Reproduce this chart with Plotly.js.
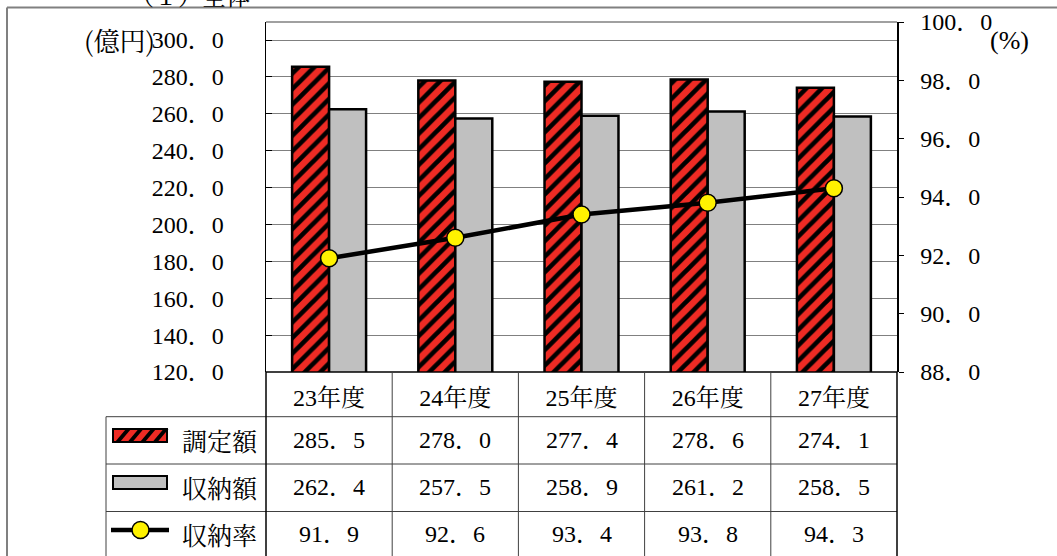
<!DOCTYPE html>
<html>
<head>
<meta charset="utf-8">
<script src="https://cdn.plot.ly/plotly-3.0.1.min.js"></script>
<style>html,body{margin:0;padding:0;background:#fff;}#chart{width:1057px;height:556px;}</style>
</head>
<body>
<div id="chart"></div>
<script>
// ---- data ----
const years = ["23年度", "24年度", "25年度", "26年度", "27年度"];
const choteigaku = [285.5, 278.0, 277.4, 278.6, 274.1];   // 調定額 (億円)
const shunogaku = [262.4, 257.5, 258.9, 261.2, 258.5];    // 収納額 (億円)
const shunoritsu = [91.9, 92.6, 93.4, 93.8, 94.3];        // 収納率 (%)
const seriesNames = ["調定額", "収納額", "収納率"];
const leftTicks = [120, 140, 160, 180, 200, 220, 240, 260, 280, 300];
const rightTicks = [88, 90, 92, 94, 96, 98, 100];
const chartTitle = "（１）全体";

// ---- layout helpers ----
const W = 1057, H = 556;
const L = 266, R = 897, T = 22, B = 372;
const PW = R - L, PH = B - T;
const px2x = p => (p - L) / PW;
const py2y = p => (B - p) / PH;
const fmt = v => v.toFixed(1).replace(".", "．");
const FONT = "'Liberation Serif', 'Noto Serif CJK JP', serif";
const JFONT = "'Noto Serif CJK JP', 'Liberation Serif', serif";
const RED = "#EE2B24", GREY = "#C0C0C0", YEL = "#FFF200";

const traces = [
  {type: "bar", name: seriesNames[0], x: years, y: choteigaku, yaxis: "y",
   marker: {color: RED, line: {color: "#000", width: 2.5},
            pattern: {shape: "/", fgcolor: "#000", bgcolor: RED, size: 11, solidity: 0.42, fillmode: "replace"}}},
  {type: "bar", name: seriesNames[1], x: years, y: shunogaku, yaxis: "y",
   marker: {color: GREY, line: {color: "#000", width: 2.5}}},
  {type: "scatter", name: seriesNames[2], x: years, y: shunoritsu, yaxis: "y2", mode: "lines+markers",
   line: {color: "#000", width: 4.5},
   marker: {size: 17, color: YEL, line: {color: "#000", width: 1.5}}}
];

const shapes = [];
const annotations = [];
const ln = (x0, y0, x1, y1, color, width) => shapes.push({type: "line", xref: "paper", yref: "paper",
  x0: px2x(x0), y0: py2y(y0), x1: px2x(x1), y1: py2y(y1), line: {color: color, width: width}, layer: "above"});

// outer frame
ln(7, 7.5, 1060, 7.5, "#808080", 2);
ln(7, 7.5, 7, 560, "#808080", 2);
// plot frame
ln(L, T, R, T, "#808080", 1.5);
ln(L, B, R, B, "#000", 1.5);
// table grid
const rowLines = [416.7, 464, 511.5];
const rowCenters = [394, 440, 487, 534];
rowLines.forEach(y => ln(106, y, R, y, "#404040", 1));
for (let k = 1; k < years.length; k++) {
  const x = L + PW * k / years.length;
  ln(x, B, x, 560, "#404040", 1);
}
ln(L, B, L, 560, "#000", 1.5);
ln(R, B, R, 560, "#000", 1.5);
ln(106, 416.7, 106, 560, "#404040", 1);

// table values
const rows = [choteigaku, shunogaku, shunoritsu];
rows.forEach((vals, r) => {
  vals.forEach((v, i) => annotations.push({xref: "x", yref: "paper", x: years[i], y: py2y(rowCenters[r + 1]),
    text: fmt(v), showarrow: false, font: {family: FONT, size: 24, color: "#000"}, xanchor: "center", yanchor: "middle"}));
  annotations.push({xref: "paper", yref: "paper", x: px2x(180), y: py2y(rowCenters[r + 1]), text: seriesNames[r],
    showarrow: false, font: {family: JFONT, size: 25, color: "#000"}, xanchor: "left", yanchor: "middle"});
});

// legend symbols
const rect = (x0, y0, x1, y1, fill) => shapes.push({type: "rect", xref: "paper", yref: "paper",
  x0: px2x(x0), y0: py2y(y0), x1: px2x(x1), y1: py2y(y1), fillcolor: fill, line: {color: "#000", width: 2}, layer: "above"});
rect(113, 429, 167, 442, RED);
for (let a = 2; a <= 40; a += 12.5) {
  const x0 = 113 + a;
  const p = `M${px2x(x0)},${py2y(442)} L${px2x(x0 + 5)},${py2y(442)} L${px2x(x0 + 5 + 11)},${py2y(429)} L${px2x(x0 + 11)},${py2y(429)} Z`;
  shapes.push({type: "path", xref: "paper", yref: "paper", path: p, fillcolor: "#000", line: {width: 0}, layer: "above"});
}
rect(113, 476, 167, 489, GREY);
ln(111, 530, 169, 530, "#000", 4.5);
shapes.push({type: "circle", xref: "paper", yref: "paper", x0: px2x(132), x1: px2x(149), y0: py2y(521.5), y1: py2y(538.5),
  fillcolor: YEL, line: {color: "#000", width: 1.5}, layer: "above"});

// unit labels and title
annotations.push({xref: "paper", yref: "paper", x: px2x(157), y: py2y(40), text: "(億円)", showarrow: false,
  font: {family: JFONT, size: 26, color: "#000"}, xanchor: "right", yanchor: "middle"});
annotations.push({xref: "paper", yref: "paper", x: px2x(988), y: py2y(41), text: "(%)", showarrow: false,
  font: {family: FONT, size: 26, color: "#000"}, xanchor: "left", yanchor: "middle"});
annotations.push({xref: "paper", yref: "paper", x: px2x(190), y: py2y(-5), text: chartTitle, showarrow: false,
  font: {family: JFONT, size: 24, color: "#000"}, xanchor: "center", yanchor: "middle"});

const leftTop = 300 + (40 - T) / ((B - 40) / 180);

const layout = {
  width: W, height: H,
  margin: {l: L, r: W - R, t: T, b: H - B, pad: 0},
  paper_bgcolor: "#fff", plot_bgcolor: "#fff",
  font: {family: FONT, color: "#000"},
  showlegend: false,
  barmode: "group", bargap: 0.414, bargroupgap: 0,
  xaxis: {type: "category", showgrid: false, showline: false, zeroline: false, ticks: "",
    tickfont: {family: FONT, size: 24, color: "#000"}, ticklabelstandoff: 9, fixedrange: true},
  yaxis: {range: [120, leftTop], tickvals: leftTicks, ticktext: leftTicks.map(fmt), showgrid: true,
    gridcolor: "#808080", gridwidth: 1, zeroline: false, showline: true, linecolor: "#000", linewidth: 1.5,
    ticks: "inside", ticklen: 6, tickcolor: "#000", tickfont: {family: FONT, size: 24, color: "#000"},
    ticklabelstandoff: 36},
  yaxis2: {range: [88, 100], overlaying: "y", side: "right", tickvals: rightTicks, ticktext: rightTicks.map(fmt),
    showgrid: false, zeroline: false, showline: true, linecolor: "#000", linewidth: 1.5,
    ticks: "outside", ticklen: 5, tickcolor: "#000", tickfont: {family: FONT, size: 24, color: "#000"},
    ticklabelstandoff: 12},
  shapes: shapes,
  annotations: annotations
};

Plotly.newPlot("chart", traces, layout, {displayModeBar: false, staticPlot: true});
</script>
</body>
</html>
